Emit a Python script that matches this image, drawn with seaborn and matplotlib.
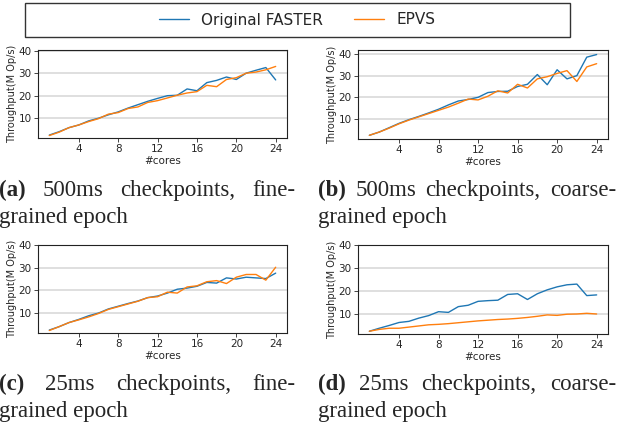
import matplotlib
matplotlib.use('Agg')
import matplotlib.pyplot as plt
from matplotlib.patches import Rectangle
import pandas as pd
import seaborn as sns

cores = [1, 2, 3, 4, 5, 6, 7, 8, 9, 10, 11, 12,
         13, 14, 15, 16, 17, 18, 19, 20, 21, 22, 23, 24]

# throughput in M Op/s
a_faster = [2.5, 4.0, 5.8, 7.0, 8.8, 10.0, 11.5, 12.8, 14.5, 16.0, 17.5, 18.8,
            20.0, 20.2, 23.0, 22.2, 25.8, 26.8, 28.3, 27.2, 30.0, 31.3, 32.5, 27.0]
a_epvs = [2.3, 3.8, 5.8, 7.0, 8.5, 9.8, 11.8, 12.5, 14.3, 15.0, 17.0, 17.8,
          19.0, 20.2, 21.2, 21.8, 24.6, 24.0, 27.2, 28.0, 30.0, 30.5, 31.5, 33.0]
b_faster = [2.5, 4.0, 6.0, 8.0, 9.7, 11.2, 12.8, 14.5, 16.5, 18.3, 19.0, 20.0,
            22.2, 22.7, 22.8, 25.0, 26.0, 30.5, 25.8, 32.7, 28.5, 30.0, 38.5, 39.7]
b_epvs = [2.5, 4.0, 5.8, 7.8, 9.5, 11.0, 12.5, 14.0, 15.5, 17.3, 19.2, 18.8,
          20.5, 23.0, 22.0, 26.0, 24.3, 28.5, 29.5, 31.0, 32.3, 27.3, 34.0, 35.5]
c_faster = [2.5, 4.0, 5.8, 7.2, 8.8, 10.0, 11.8, 13.0, 14.2, 15.3, 16.8, 17.5,
            18.8, 20.5, 21.0, 21.8, 23.5, 23.2, 25.5, 25.0, 25.8, 25.5, 25.2, 27.6]
c_epvs = [2.3, 4.0, 5.8, 7.0, 8.3, 9.8, 11.6, 12.8, 14.0, 15.2, 16.8, 17.2,
          19.2, 18.8, 21.5, 22.0, 23.8, 24.3, 23.0, 25.8, 27.0, 27.0, 24.5, 30.2]
d_faster = [2.5, 3.8, 5.0, 6.3, 6.8, 8.2, 9.3, 11.0, 10.7, 13.2, 13.8, 15.5,
            15.8, 16.0, 18.5, 18.8, 16.3, 18.8, 20.5, 21.8, 22.7, 23.0, 18.0, 18.3]
d_epvs = [2.5, 3.3, 3.8, 3.8, 4.3, 4.8, 5.3, 5.5, 5.8, 6.2, 6.6, 7.0,
          7.3, 7.6, 7.8, 8.1, 8.5, 9.0, 9.6, 9.4, 9.9, 10.0, 10.3, 10.0]

systems = ['Original FASTER', 'EPVS']
captions = [
    ['(a)', '500ms', 'checkpoints,', 'fine-'],
    ['(b)', '500ms', 'checkpoints,', 'coarse-'],
    ['(c)', '25ms', 'checkpoints,', 'fine-'],
    ['(d)', '25ms', 'checkpoints,', 'coarse-'],
]
panels = [(a_faster, a_epvs), (b_faster, b_epvs), (c_faster, c_epvs), (d_faster, d_epvs)]

sns.set_style('ticks')
colors = ['#1f77b4', '#ff7f0e']

W, H = 623, 429
fig = plt.figure(figsize=(W / 100, H / 100), dpi=100)

# axes boxes in pixels: left, right, top, bottom
boxes = [(38, 287, 50, 138), (358, 608, 50, 139), (38, 287, 245, 333), (358, 608, 245, 334)]
ylims = [(1.2, 40.3), (0.8, 41.8), (1.2, 40.0), (1.3, 40.0)]

for (faster, epvs), (l, r, t, b), yl in zip(panels, boxes, ylims):
    ax = fig.add_axes([l / W, 1 - b / H, (r - l) / W, (b - t) / H])
    df = pd.DataFrame({
        'cores': cores * 2,
        'tput': faster + epvs,
        'system': [systems[0]] * len(cores) + [systems[1]] * len(cores),
    })
    sns.lineplot(data=df, x='cores', y='tput', hue='system', palette=colors,
                 linewidth=1.0, ax=ax, legend=False)
    ax.set_xticks([4, 8, 12, 16, 20, 24])
    ax.set_yticks([10, 20, 30, 40])
    ax.set_xlim(-0.15, 25.15)
    ax.set_ylim(*yl)
    ax.yaxis.grid(True, color='#dcdcdc', linewidth=1.3)
    ax.set_axisbelow(True)
    ax.set_xlabel('#cores', fontsize=7.5, labelpad=1)
    ax.set_ylabel('Throughput(M Op/s)', fontsize=7, labelpad=1)
    ax.tick_params(labelsize=7.5, length=3, width=0.6, pad=1.5)
    for s in ax.spines.values():
        s.set_color('#222222')
        s.set_linewidth(0.8)

# legend: frameless entries centred in a hand-drawn box
fig.patches.append(Rectangle((25 / W, 1 - 37 / H), (570 - 25) / W, 34 / H,
                             transform=fig.transFigure, fill=False,
                             edgecolor='#333333', linewidth=1.0))
handles = [plt.Line2D([], [], color=c, lw=1.0) for c in colors]
fig.legend(handles, systems, loc='center', ncol=2, fontsize=11,
           bbox_to_anchor=(297 / W, 1 - 20 / H), frameon=False)

CAP_FS = 16.5
cap_font = 'Liberation Serif'
renderer = fig.canvas.get_renderer()


def justify(words, x0, x1, ybase):
    texts = []
    for i, w in enumerate(words):
        t = fig.text(0, 1 - ybase / H, w, fontsize=CAP_FS, family=cap_font,
                     fontweight='bold' if i == 0 else 'normal', va='baseline')
        texts.append(t)
    widths = [t.get_window_extent(renderer).width for t in texts]
    gap = (x1 - x0 - sum(widths)) / (len(words) - 1)
    x = x0
    for t, w in zip(texts, widths):
        t.set_x(x / W)
        x += w + gap


cols = [(-1, 295), (318, 616), (-1, 295), (318, 616)]
bases = [196, 196, 390, 390]
for words, (x0, x1), yb in zip(captions, cols, bases):
    justify(words, x0, x1, yb)
    fig.text(x0 / W, 1 - (yb + 27) / H, 'grained epoch', fontsize=CAP_FS,
             family=cap_font, va='baseline')

fig.savefig('out.png', dpi=100)
